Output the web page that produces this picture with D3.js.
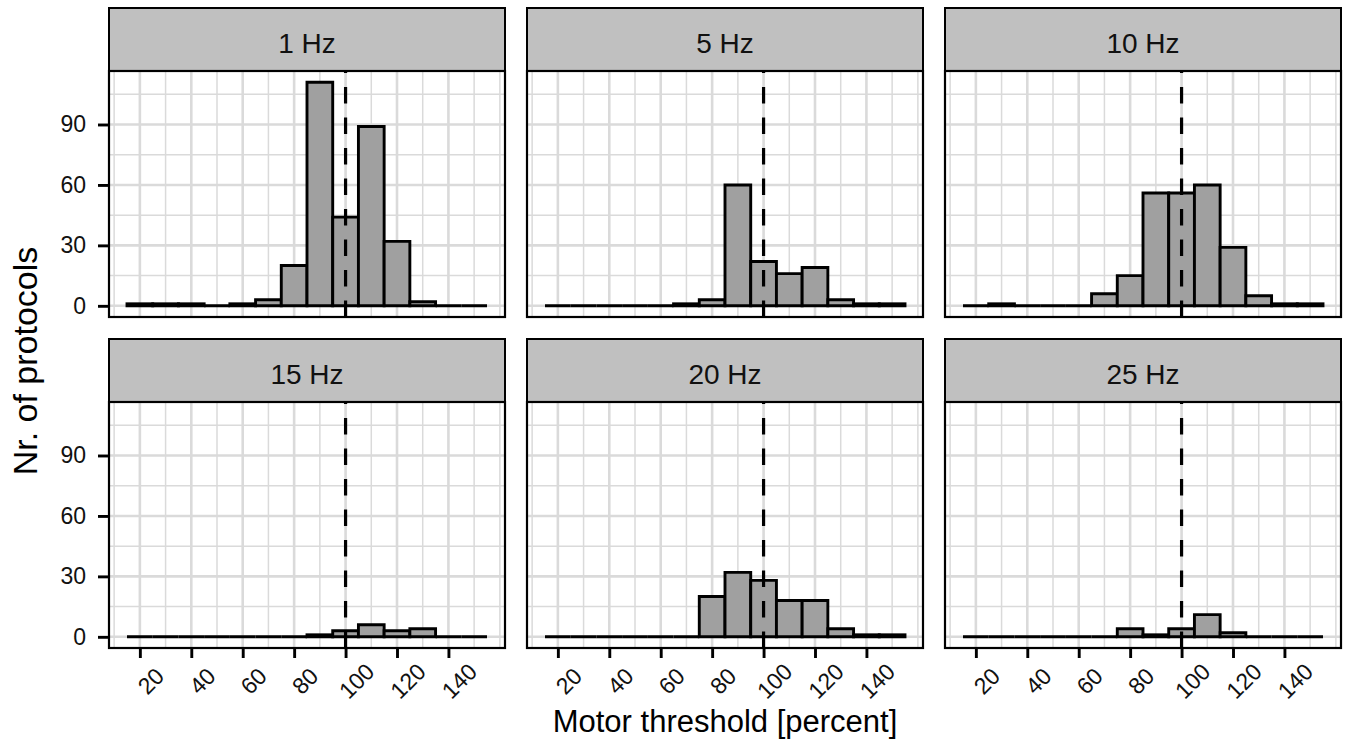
<!DOCTYPE html>
<html>
<head>
<meta charset="utf-8">
<script src="https://cdn.jsdelivr.net/npm/d3@7"></script>
<style>
  html, body { margin: 0; padding: 0; background: #ffffff; }
  svg { display: block; font-family: "Liberation Sans", Arial, sans-serif; }
</style>
</head>
<body>
<svg id="chart" width="1348" height="742"></svg>
<script>
// ---- data ----
const frequencies = ["1 Hz", "5 Hz", "10 Hz", "15 Hz", "20 Hz", "25 Hz"];
const binStarts = [15, 25, 35, 45, 55, 65, 75, 85, 95, 105, 115, 125, 135, 145];
const binWidth = 10;
const counts1Hz  = [1, 1, 1, 0, 1, 3, 20, 111, 44, 89, 32, 2, 0, 0];
const counts5Hz  = [0, 0, 0, 0, 0, 1, 3, 60, 22, 16, 19, 3, 1, 1];
const counts10Hz = [0, 1, 0, 0, 0, 6, 15, 56, 56, 60, 29, 5, 1, 1];
const counts15Hz = [0, 0, 0, 0, 0, 0, 0, 1, 3, 6, 3, 4, 0, 0];
const counts20Hz = [0, 0, 0, 0, 0, 0, 20, 32, 28, 18, 18, 4, 1, 1];
const counts25Hz = [0, 0, 0, 0, 0, 0, 4, 1, 4, 11, 2, 0, 0, 0];
const xTickValues = [20, 40, 60, 80, 100, 120, 140];
const yTickValues = [0, 30, 60, 90];
const referenceLine = 100;
const xTitle = "Motor threshold [percent]";
const yTitle = "Nr. of protocols";

const allCounts = [counts1Hz, counts5Hz, counts10Hz, counts15Hz, counts20Hz, counts25Hz];

// ---- layout ----
const svg = d3.select("#chart");
const panelLeft = 109, panelW = 396, colGap = 22;
const stripTop = 8, stripH = 63, panelH = 246, rowGap = 22;

const xMin = binStarts[0], xMax = binStarts[binStarts.length - 1] + binWidth;
const xPad = (xMax - xMin) * 0.05;
const yMaxData = d3.max(allCounts.flat());
const yPad = yMaxData * 0.05;

const x = d3.scaleLinear().domain([xMin - xPad, xMax + xPad]).range([0, panelW]);
const y = d3.scaleLinear().domain([-yPad, yMaxData + yPad]).range([panelH, 0]);

const xMinor = d3.range(0, 170, 10).filter(v => v >= x.domain()[0] && v <= x.domain()[1] && !xTickValues.includes(v));
const yMinor = d3.range(-30, 130, 15).filter(v => v >= y.domain()[0] && v <= y.domain()[1] && !yTickValues.includes(v));

const gridCol = "#dadada";

frequencies.forEach((freq, i) => {
  const col = i % 3, row = Math.floor(i / 3);
  const px = panelLeft + col * (panelW + colGap);
  const sy = stripTop + row * (stripH + panelH + rowGap);
  const py = sy + stripH;
  const counts = allCounts[i];

  // strip
  svg.append("rect").attr("x", px).attr("y", sy).attr("width", panelW).attr("height", stripH)
    .attr("fill", "#c0c0c0").attr("stroke", "#000").attr("stroke-width", 2);
  svg.append("text").attr("x", px + panelW / 2).attr("y", sy + stripH / 2 + 4)
    .attr("text-anchor", "middle").attr("dominant-baseline", "central")
    .attr("font-size", 28).attr("fill", "#111").text(freq);

  const g = svg.append("g").attr("transform", `translate(${px},${py})`);
  g.append("rect").attr("width", panelW).attr("height", panelH).attr("fill", "#fff");

  // minor grid
  g.selectAll(".vminor").data(xMinor).join("line")
    .attr("x1", d => x(d)).attr("x2", d => x(d)).attr("y1", 0).attr("y2", panelH)
    .attr("stroke", gridCol).attr("stroke-width", 1.5);
  g.selectAll(".hminor").data(yMinor).join("line")
    .attr("x1", 0).attr("x2", panelW).attr("y1", d => y(d)).attr("y2", d => y(d))
    .attr("stroke", gridCol).attr("stroke-width", 1.5);
  // major grid
  g.selectAll(".vmajor").data(xTickValues).join("line")
    .attr("x1", d => x(d)).attr("x2", d => x(d)).attr("y1", 0).attr("y2", panelH)
    .attr("stroke", gridCol).attr("stroke-width", 2.6);
  g.selectAll(".hmajor").data(yTickValues).join("line")
    .attr("x1", 0).attr("x2", panelW).attr("y1", d => y(d)).attr("y2", d => y(d))
    .attr("stroke", gridCol).attr("stroke-width", 2.6);

  // bars
  const bins = binStarts.map((b, k) => ({ x0: b, x1: b + binWidth, n: counts[k] }));
  g.selectAll(".bar").data(bins).join("path")
    .attr("d", d => `M${x(d.x0)},${y(0)}V${y(d.n)}H${x(d.x1)}V${y(0)}Z`)
    .attr("fill", "#a0a0a0").attr("stroke", "#000").attr("stroke-width", 2.9)
    .attr("stroke-linejoin", "miter");

  // reference line
  g.append("line").attr("x1", x(referenceLine)).attr("x2", x(referenceLine))
    .attr("y1", panelH).attr("y2", 0)
    .attr("stroke", "#000").attr("stroke-width", 3.2).attr("stroke-dasharray", "16.5,14");

  // panel border
  g.append("rect").attr("width", panelW).attr("height", panelH)
    .attr("fill", "none").attr("stroke", "#000").attr("stroke-width", 2.2);

  // y axis on left column
  if (col === 0) {
    const ya = g.append("g").call(d3.axisLeft(y).tickValues(yTickValues).tickSize(11).tickPadding(12).tickFormat(d3.format("d")));
    ya.select(".domain").remove();
    ya.selectAll(".tick line").attr("stroke", "#000").attr("stroke-width", 2.9);
    ya.selectAll(".tick text").attr("font-size", 23).attr("fill", "#111")
      .attr("font-family", "Liberation Sans, Arial, sans-serif");
  }
  // x axis on bottom row
  if (row === 1) {
    const xa = g.append("g").attr("transform", `translate(0,${panelH})`)
      .call(d3.axisBottom(x).tickValues(xTickValues).tickSize(10).tickFormat(d3.format("d")));
    xa.select(".domain").remove();
    xa.selectAll(".tick line").attr("stroke", "#000").attr("stroke-width", 2.9);
    xa.selectAll(".tick text")
      .attr("font-size", 23).attr("fill", "#111")
      .attr("font-family", "Liberation Sans, Arial, sans-serif")
      .attr("text-anchor", "middle").attr("dominant-baseline", "central")
      .attr("y", 0).attr("dy", null)
      .attr("transform", "translate(10.5,33) rotate(-45)");
  }
});

// axis titles
const panelsRight = panelLeft + 3 * panelW + 2 * colGap;
svg.append("text").attr("x", (panelLeft + panelsRight) / 2).attr("y", 732)
  .attr("text-anchor", "middle").attr("font-size", 31).attr("fill", "#000").text(xTitle);
svg.append("text")
  .attr("transform", `translate(37,361) rotate(-90)`)
  .attr("text-anchor", "middle").attr("font-size", 34).attr("fill", "#000").text(yTitle);
</script>
</body>
</html>
